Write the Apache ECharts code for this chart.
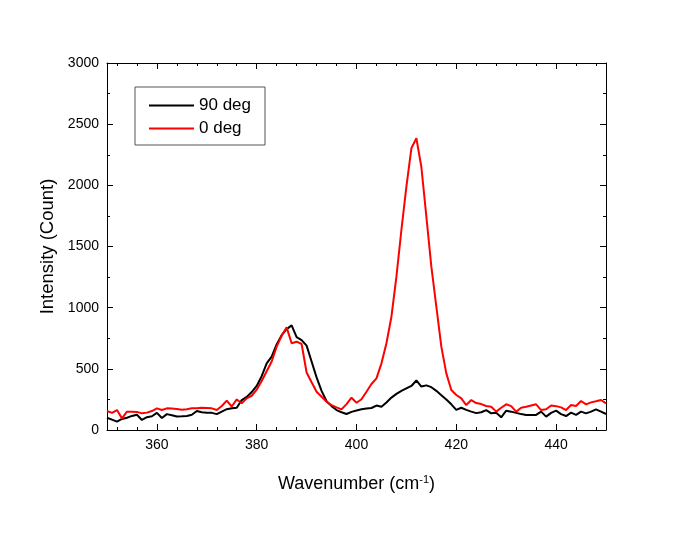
<!DOCTYPE html>
<html>
<head>
<meta charset="utf-8">
<script src="https://cdn.jsdelivr.net/npm/echarts@6/dist/echarts.min.js"></script>
<style>html,body{margin:0;padding:0;background:#fff;}#c{width:675px;height:534px;}</style>
</head>
<body>
<div id="c"></div>
<script>
var wavenumbers = [];
for (var w = 350; w <= 450; w++) wavenumbers.push(w);

var deg90 = [100,85,68,90,100,115,125,82,105,112,
  140,98,130,120,110,112,115,125,155,145,
  142,140,130,150,170,178,182,245,270,310,
  360,440,545,600,700,775,825,855,760,735,
  690,560,430,320,235,195,163,145,131,148,
  160,170,175,180,200,190,225,265,295,320,
  340,360,405,355,365,350,320,285,250,210,
  165,182,165,150,138,145,163,136,141,104,
  158,150,140,130,123,123,123,150,109,140,
  158,130,114,142,123,150,136,150,169,150,131];

var deg0 = [155,140,163,95,150,150,148,136,142,155,
  177,163,177,175,172,165,170,177,177,182,
  180,177,163,196,240,192,250,218,259,280,
  330,400,480,560,681,770,839,709,722,703,
  470,390,313,272,231,204,185,169,212,264,
  223,251,313,376,422,545,709,926,1253,1635,
  1989,2303,2385,2150,1744,1335,1008,681,463,327,
  286,259,204,245,220,212,196,190,150,182,
  210,195,150,182,190,200,210,163,169,200,
  195,185,163,204,196,237,210,226,235,245,218];

var seriesNames = ['90 deg', '0 deg'];
var xMajorTicks = [360, 380, 400, 420, 440];
var xMinorTicks = [352, 356, 364, 368, 372, 376, 384, 388, 392, 396, 404, 408, 412, 416, 424, 428, 432, 436, 444, 448];
var yTicks = [0, 500, 1000, 1500, 2000, 2500, 3000];

function pairs(ys) { return wavenumbers.map(function (x, i) { return [x, ys[i]]; }); }
function plain(v) { return String(v); }

var FONT = 'Liberation Sans, Arial, sans-serif';
var chart = echarts.init(document.getElementById('c'), null, {renderer: 'canvas'});

function xAxisDef(pos, ticks, len, withLabels, withLine) {
  var a = {
    type: 'value', min: 350, max: 450, interval: 10, position: pos,
    axisLine: {show: withLine, lineStyle: {color: '#000', width: 1}},
    axisTick: {show: true, inside: true, length: len, customValues: ticks, lineStyle: {color: '#000', width: 1}},
    splitLine: {show: false},
    axisLabel: {show: false}
  };
  if (withLabels) {
    a.axisLabel = {show: true, customValues: xMajorTicks, formatter: plain, fontFamily: FONT, fontSize: 14, color: '#000', margin: 8};
    a.name = 'Wavenumber (cm{sup|-1})';
    a.nameLocation = 'middle';
    a.nameGap = 44;
    a.nameTextStyle = {fontFamily: FONT, fontSize: 18, color: '#000',
      rich: {sup: {fontFamily: FONT, fontSize: 11, verticalAlign: 'top', padding: [0, 0, 10, 0], color: '#000'}}};
  }
  return a;
}

function yAxisDef(pos, withLabels) {
  var a = {
    type: 'value', min: 0, max: 3000, interval: 500, position: pos,
    axisLine: {show: true, lineStyle: {color: '#000', width: 1}},
    axisTick: {show: true, inside: true, length: 6, lineStyle: {color: '#000', width: 1}},
    minorTick: {show: true, splitNumber: 2, length: 3, lineStyle: {color: '#000', width: 1}},
    splitLine: {show: false},
    axisLabel: {show: false}
  };
  if (withLabels) {
    a.axisLabel = {show: true, customValues: yTicks, formatter: plain, fontFamily: FONT, fontSize: 14, color: '#000', margin: 8};
    a.name = 'Intensity (Count)';
    a.nameLocation = 'middle';
    a.nameGap = 44;
    a.nameTextStyle = {fontFamily: FONT, fontSize: 18.5, color: '#000'};
  }
  return a;
}

chart.setOption({
  animation: false,
  backgroundColor: '#fff',
  grid: {left: 107, right: 69, top: 63, bottom: 104, containLabel: false},
  legend: {
    orient: 'vertical', left: 135, top: 87,
    data: seriesNames,
    itemWidth: 45, itemHeight: 14, itemGap: 6,
    padding: [10, 14, 8, 13],
    borderColor: '#555', borderWidth: 1, backgroundColor: '#fff',
    itemStyle: {opacity: 0},
    textStyle: {fontFamily: FONT, fontSize: 17, color: '#000'}
  },
  xAxis: [
    xAxisDef('bottom', xMajorTicks, 6, true, true),
    xAxisDef('bottom', xMinorTicks, 3, false, false),
    xAxisDef('top', xMajorTicks, 6, false, true),
    xAxisDef('top', xMinorTicks, 3, false, false)
  ],
  yAxis: [
    yAxisDef('left', true),
    yAxisDef('right', false)
  ],
  series: [
    {name: seriesNames[0], type: 'line', xAxisIndex: 0, yAxisIndex: 0, data: pairs(deg90), symbol: 'none',
      lineStyle: {color: '#000', width: 2}, itemStyle: {color: '#000'}},
    {name: seriesNames[1], type: 'line', xAxisIndex: 0, yAxisIndex: 0, data: pairs(deg0), symbol: 'none',
      lineStyle: {color: '#ff0000', width: 2}, itemStyle: {color: '#ff0000'}}
  ]
});
</script>
</body>
</html>
